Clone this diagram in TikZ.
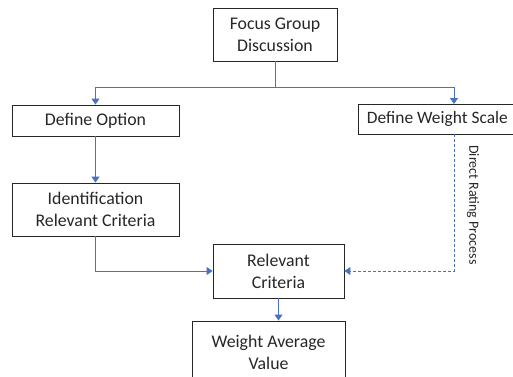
\documentclass[tikz,border=0pt]{standalone}
\usepackage{fontspec}
\setmainfont{Carlito}
\usetikzlibrary{arrows.meta}
\definecolor{lineblue}{HTML}{4472C4}
\definecolor{boxline}{HTML}{262626}
\tikzset{
  box/.style={draw=boxline, line width=0.9pt, align=center, inner sep=0pt,
    font=\fontsize{17.8}{22}\selectfont, text=black!85},
  flow/.style={draw=lineblue, line width=1pt, -{Triangle[width=8pt,length=6pt]}},
  dflow/.style={flow, dash pattern=on 3pt off 2pt},
  lbl/.style={font=\fontsize{14}{17}\selectfont, text=black!85}
}
\begin{document}
\begin{tikzpicture}[x=1pt,y=-1pt]
\useasboundingbox (0,0) rectangle (513,376);
\clip (0,0) rectangle (513,376);
\node[box, minimum width=124pt, minimum height=53pt] (fgd) at (275,34.5) {Focus Group\\Discussion};
\node[box, minimum width=167pt, minimum height=31pt] (opt) at (95.5,120.5) {Define Option};
\node[box, minimum height=30pt, anchor=west, inner xsep=8.5pt, font=\fontsize{17.4}{22}\selectfont] (dws) at (358,119) {Define Weight Scale};
\draw[draw=boxline, line width=0.9pt] (dws.north east) -- ++(20,0) |- (dws.south east);
\node[box, minimum width=167pt, minimum height=53pt] (idc) at (95.5,209.5) {Identification\\Relevant Criteria};
\node[box, minimum width=131pt, minimum height=54pt] (rc) at (278.5,271) {Relevant\\Criteria};
\node[box, minimum width=153pt, minimum height=62pt] (wav) at (268.5,352) {Weight Average\\Value};
\coordinate (split) at (275,87);
\draw[flow, -] (fgd.south) -- (split);
\draw[flow] (split) -| (opt.north);
\draw[flow] (split) -| (454,104);
\draw[flow] (opt.south) -- (idc.north);
\draw[flow] (idc.south) |- (rc.west);
\coordinate (dtop) at (454,134);
\draw[dflow] (dtop) |- (rc.east);
\node[lbl, rotate=-90] (drp) at (473,205) {Direct Rating Process};
\draw[flow] (rc.south) -- (wav.north -| rc.south);
\end{tikzpicture}
\end{document}
